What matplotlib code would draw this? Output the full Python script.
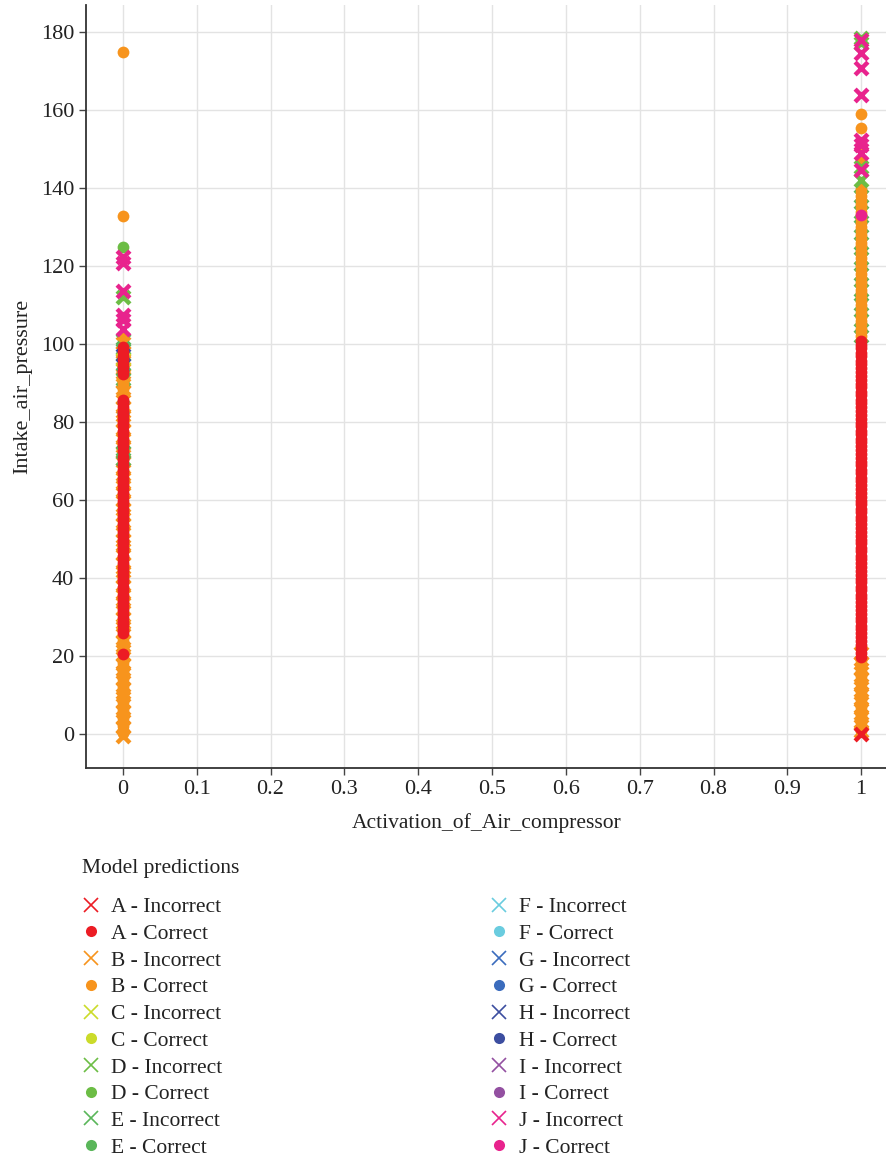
import matplotlib.pyplot as plt
from matplotlib.lines import Line2D
from matplotlib.ticker import FormatStrFormatter, MultipleLocator

plt.rcParams['font.family'] = ['Liberation Serif', 'DejaVu Serif']

# class colours, A..J
colors = {
    'A': '#ec1c24', 'B': '#f7941d', 'C': '#cbdb2a', 'D': '#6cbd45',
    'E': '#5ab65a', 'F': '#6accdf', 'G': '#3b6cbd', 'H': '#3c4ea0',
    'I': '#9350a1', 'J': '#e8238d',
}

# Intake_air_pressure readings where Activation_of_Air_compressor == 0
b_inc_0 = [-0.4, 1.8, 4.1, 5.9, 8.2, 10.1, 11.8, 14.2, 16.0, 17.9, 20.3, 22.1, 24.0,
           26.2, 28.1, 29.8, 32.2, 34.0, 35.9, 38.1, 40.2, 41.9, 44.0, 46.1, 48.2,
           49.9, 52.1, 54.0, 56.2, 57.8, 60.1, 62.0, 64.2, 65.9, 68.0, 70.1, 72.2,
           73.9, 76.0, 78.1, 80.2, 81.9, 84.0, 86.1, 88.0, 90.2, 92.1, 93.9, 96.0,
           98.1, 100.2]
b_cor_0 = [0.2, 1.1, 2.2, 3.1, 4.2, 5.1, 6.2, 7.1, 8.2, 9.1, 10.2, 11.1, 12.2, 13.1,
           14.2, 15.1, 16.2, 17.1, 18.2, 19.1, 20.2, 21.9, 22.8, 23.9, 24.8,
           88.4, 89.3, 90.1, 101.8, 132.8, 174.9]
e_inc_0 = [70.5, 72.4, 91.2, 95.0, 99.1, 101.0]
g_cor_0 = [82.3, 85.1, 93.4]
h_inc_0 = [97.2]
c_inc_0 = [96.1]
a_cor_0 = [20.6, 25.9, 26.8, 27.9, 28.8, 29.9, 30.8, 31.9, 32.9, 33.8, 34.9, 35.8,
           36.9, 37.8, 38.9, 39.8, 40.9, 41.8, 42.9, 43.8, 44.9, 45.8, 46.9, 47.8,
           48.9, 49.8, 50.9, 51.8, 52.9, 53.8, 54.9, 55.8, 56.9, 57.8, 58.9, 59.8,
           60.9, 61.8, 62.9, 63.8, 64.9, 65.8, 66.9, 67.8, 68.9, 70.2, 71.1, 72.6,
           73.8, 74.9, 75.8, 76.9, 77.8, 78.9, 79.8, 80.9, 81.8, 82.9, 83.8, 84.9,
           85.8, 92.3, 93.2, 94.1, 95.0, 96.1, 97.0, 98.1, 99.2]
d_inc_0 = [112.1]
d_cor_0 = [125.0]
j_inc_0 = [104.0, 106.1, 107.4, 113.6, 120.8, 122.3]

# Intake_air_pressure readings where Activation_of_Air_compressor == 1
b_inc_1 = [0.8, 2.9, 4.7, 6.6, 8.8, 10.5, 12.7, 14.4, 16.6, 18.3, 20.7]
e_inc_1 = [102.0, 106.1, 110.2, 113.9, 118.0, 122.1, 126.0, 130.2, 133.9, 138.1]
b_cor_1 = [0.9, 1.9, 3.0, 3.9, 5.0, 5.9, 7.0, 7.9, 9.0, 9.9, 11.0, 11.9, 13.0,
           13.9, 15.0, 15.9, 17.0, 17.9, 19.0,
           101.1, 102.0, 103.1, 104.0, 105.1, 106.0, 107.1, 108.0, 109.1, 110.0,
           111.1, 112.0, 113.1, 114.0, 115.1, 116.0, 117.1, 118.0, 119.1, 120.0,
           121.1, 122.0, 123.1, 124.0, 125.1, 126.0, 127.1, 128.0, 129.1, 130.0,
           131.1, 132.0, 133.1, 134.0, 135.1, 136.0, 137.1, 138.0, 139.1, 139.9,
           147.1, 150.3, 155.4, 159.0]
j_cor_1 = [133.2]
a_cor_1 = [19.8, 20.9, 21.8, 22.9, 23.8, 24.9, 25.8, 26.9, 27.8, 28.9, 29.8, 30.9,
           31.8, 32.9, 33.8, 34.9, 35.8, 36.9, 37.8, 38.9, 39.8, 40.9, 41.8, 42.9,
           43.8, 44.9, 45.8, 46.9, 47.8, 48.9, 49.8, 50.9, 51.8, 52.9, 53.8, 54.9,
           55.8, 56.9, 57.8, 58.9, 59.8, 60.9, 61.8, 62.9, 63.8, 64.9, 65.8, 66.9,
           67.8, 68.9, 69.8, 70.9, 71.8, 72.9, 73.8, 74.9, 75.8, 76.9, 77.8, 78.9,
           79.8, 80.9, 81.8, 82.9, 83.8, 84.9, 85.8, 86.9, 87.8, 88.9, 89.8, 90.9,
           91.8, 92.9, 93.8, 94.9, 95.8, 96.9, 97.8, 98.9, 99.8, 100.9]
d_inc_1 = [178.6, 177.2, 145.4, 142.0]
j_inc_1 = [178.0, 174.6, 170.8, 163.8, 152.3, 151.0, 149.0, 144.6]
a_inc_1 = [0.0]

fig = plt.figure(figsize=(8.87, 11.58), dpi=100)
ax = fig.add_axes([86 / 887, 390 / 1158, 801 / 887, 763 / 1158])


def draw(y0, y1, letter, wrong):
    ys = list(y0) + list(y1)
    xs = [0] * len(y0) + [1] * len(y1)
    if wrong:
        ax.scatter(xs, ys, s=85, marker='x', linewidths=3.2,
                   color=colors[letter], zorder=3)
    else:
        ax.scatter(xs, ys, s=72, marker='o', linewidths=0,
                   color=colors[letter], zorder=3)


draw(b_inc_0, b_inc_1, 'B', True)
draw(e_inc_0, e_inc_1, 'E', True)
draw(c_inc_0, [], 'C', True)
draw(h_inc_0, [], 'H', True)
draw(g_cor_0, [], 'G', False)
draw(b_cor_0, b_cor_1, 'B', False)
draw([], j_cor_1, 'J', False)
draw(a_cor_0, a_cor_1, 'A', False)
draw(d_inc_0, d_inc_1, 'D', True)
draw(d_cor_0, [], 'D', False)
draw(j_inc_0, j_inc_1, 'J', True)
draw([], a_inc_1, 'A', True)

ax.set_xlim(-0.05, 1.035)
ax.set_ylim(-8.7, 187)
ax.xaxis.set_major_locator(MultipleLocator(0.1))
ax.yaxis.set_major_locator(MultipleLocator(20))
ax.xaxis.set_major_formatter(FormatStrFormatter('%g'))
ax.grid(True, color='#e3e3e3', linewidth=1.0, zorder=0)
ax.set_axisbelow(True)
for side in ['top', 'right']:
    ax.spines[side].set_visible(False)
for side in ['left', 'bottom']:
    ax.spines[side].set_color('#333333')
    ax.spines[side].set_linewidth(1.3)
ax.tick_params(direction='out', length=5, width=1, color='#444444',
               labelsize=16, labelcolor='#222222')
ax.set_xlabel('Activation_of_Air_compressor', fontsize=15.5, color='#222222', labelpad=10)
ax.set_ylabel('Intake_air_pressure', fontsize=16, color='#222222', labelpad=6)

# legend
fig.text(82 / 887, 1 - 869 / 1158, 'Model predictions', fontsize=15.5,
         color='#222222', va='center', ha='left')


def handles(letters):
    out = []
    for k in letters:
        out.append(Line2D([], [], linestyle='none', marker='x', markersize=10,
                          markeredgewidth=1.2, color=colors[k],
                          label=k + ' - Incorrect'))
        out.append(Line2D([], [], linestyle='none', marker='o', markersize=8,
                          markeredgewidth=0, color=colors[k],
                          label=k + ' - Correct'))
    return out


for letters, x in [('ABCDE', 80 / 887), ('FGHIJ', 488 / 887)]:
    leg = fig.legend(handles=handles(letters), loc='upper left',
                     bbox_to_anchor=(x, 1 - 897 / 1158), frameon=False,
                     fontsize=15.5, handlelength=1.0, handletextpad=0.42,
                     labelspacing=0.31, borderpad=0, borderaxespad=0)
    for t in leg.get_texts():
        t.set_color('#222222')

fig.savefig('out.png', dpi=100)
